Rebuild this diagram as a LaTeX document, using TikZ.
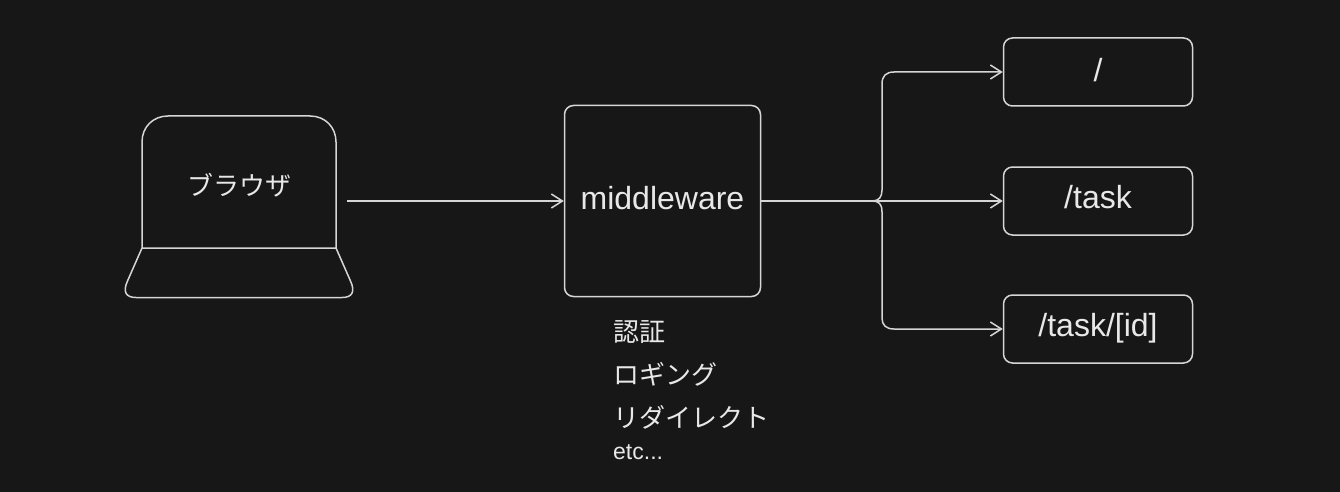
\documentclass[tikz,border=0pt]{standalone}
\usepackage{fontspec}
\setmainfont{Liberation Sans}
\newfontfamily\cjk{Noto Sans CJK JP}
\usetikzlibrary{arrows.meta}
\definecolor{bgc}{HTML}{171717}
\definecolor{linec}{HTML}{D6D6D6}
\definecolor{textc}{HTML}{E8E8E8}
\tikzset{
  outl/.style={draw=linec,line width=1.5pt},
  boxs/.style={outl,rounded corners=9pt,anchor=center,inner sep=0pt},
  conn/.style={outl,line join=round,-{Straight Barb[length=11pt,width=14pt,line width=1.5pt]}},
  lbl/.style={text=textc,inner sep=0pt,font=\fontsize{32}{34}\selectfont},
  jp/.style={text=textc,inner sep=0pt,anchor=west,font=\cjk\fontsize{26}{28}\selectfont},
}
\begin{document}
\begin{tikzpicture}[x=1pt,y=-1pt]
\useasboundingbox (0,0) rectangle (1340,492);
\fill[bgc] (0,0) rectangle (1340,492);
% laptop
\draw[outl] (142,248) -- (142,142) .. controls (142,127) and (153,116) .. (168,116) -- (310,116) .. controls (325,116) and (336,127) .. (336,142) -- (336,248) -- cycle;
\draw[outl] (142,248) -- (127.5,281) .. controls (122.5,292) and (126,297.5) .. (136,297.5) -- (342,297.5) .. controls (352,297.5) and (355.5,292) .. (350.5,281) -- (336,248);
\node[text=textc,inner sep=0pt,font=\cjk\fontsize{26}{28}\selectfont] (browser) at (239.5,185) {ブラウザ};
\coordinate (laptopR) at (347,201);
% middleware
\node[boxs,minimum width=196pt,minimum height=191pt] (mw) at (662.5,201) {};
\node[lbl] (mwt) at (662.5,198) {middleware};
% route boxes
\node[boxs,minimum width=189pt,minimum height=68pt] (r1) at (1098,72) {};
\node[boxs,minimum width=189pt,minimum height=68pt] (r2) at (1098,201) {};
\node[boxs,minimum width=189pt,minimum height=68pt] (r3) at (1098,329) {};
\node[lbl] (t1) at (1098,70) {/};
\node[lbl] (t2) at (1098,197) {/task};
\node[lbl] (t3) at (1098,328.5) {/task/[id]};
% connectors
\draw[conn] (laptopR) -- (mw.west);
\draw[conn] (mw.east) -- (r2.west);
\draw[conn] (mw.east) -- (872,201) .. controls (879,201) and (882,197) .. (882,190) -- (882,84) .. controls (882,76) and (886,72) .. (894,72) -- (r1.west);
\draw[conn] (mw.east) -- (872,201) .. controls (879,201) and (882,204) .. (882,212) -- (882,318) .. controls (882,325) and (886,329) .. (894,329) -- (r3.west);
% notes
\node[jp] (n1) at (613,332) {認証};
\node[jp] (n2) at (613,374) {ロギング};
\node[jp] (n3) at (613,417) {リダイレクト};
\node[text=textc,inner sep=0pt,anchor=west,font=\fontsize{23}{24}\selectfont] (n4) at (613,452) {etc...};
\end{tikzpicture}
\end{document}
